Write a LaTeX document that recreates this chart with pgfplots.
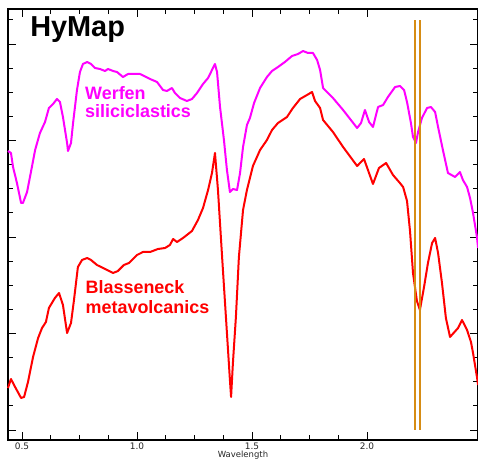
\documentclass[border=0pt]{standalone}
\usepackage{fontspec}
\setmainfont{Liberation Sans}
\newfontfamily\tickfont{DejaVu Sans}
\usepackage{pgfplots}
\pgfplotsset{compat=1.18}
\definecolor{orng}{RGB}{214,140,20}
\definecolor{mgnt}{RGB}{255,0,255}
\definecolor{rd}{RGB}{255,0,0}
\begin{document}
\begin{tikzpicture}
\begin{axis}[
  name=ax,
  scale only axis,
  width=470bp, height=431bp,
  xmin=0.4391, xmax=2.4826,
  ymin=0, ymax=431,
  axis line style={line width=1.3bp, black},
  xtick={0.5,1.0,1.5,2.0},
  xticklabels={0.5,1.0,1.5,2.0},
  minor x tick num=3,
  ytick={10,106.5,203,299.5,396},
  minor ytick={34.125,58.25,82.375,130.625,154.75,178.875,227.125,251.25,275.375,323.625,347.75,371.875,420.125},
  yticklabels={},
  tick align=inside,
  xtick pos=both, ytick pos=both,
  major tick length=8bp, minor tick length=5bp,
  every tick/.style={black, line width=0.9bp},
  x tick label style={font=\tickfont\fontsize{9}{10}\selectfont, text=black!85, inner sep=0pt, yshift=-2.5bp},
  xlabel={Wavelength},
  xlabel style={font=\tickfont\fontsize{8.5}{9}\selectfont, text=black!85, inner sep=0pt, yshift=-1.5bp},
  clip=false,
]
% Werfen siliciclastics (magenta)
\addplot[mgnt, line width=2bp, line join=round] coordinates {
(0.439,289)(0.452,287)(0.461,273)(0.478,257)(0.496,237)(0.504,237)(0.522,248)(0.543,273)(0.557,290)(0.578,307)(0.600,318)(0.617,332)(0.635,336)(0.652,341)(0.665,338)(0.678,323)(0.696,297)(0.700,289)(0.713,297)(0.722,317)(0.739,350)(0.752,368)(0.765,376)(0.783,378)(0.800,376)(0.817,372)(0.839,371)(0.861,369)(0.874,371)(0.896,369)(0.913,368)(0.939,363)(0.961,366)(1.013,366)(1.057,361)(1.087,358)(1.113,350)(1.130,349)(1.152,352)(1.165,347)(1.187,342)(1.217,339)(1.239,341)(1.261,347)(1.287,356)(1.309,362)(1.326,370)(1.339,376)(1.348,368)(1.361,333)(1.378,300)(1.391,270)(1.404,248)(1.417,251)(1.435,250)(1.448,267)(1.461,293)(1.478,315)(1.491,322)(1.509,337)(1.535,352)(1.565,363)(1.587,369)(1.613,373)(1.643,378)(1.674,384)(1.700,386)(1.722,389)(1.743,387)(1.765,387)(1.783,380)(1.796,370)(1.809,352)(1.852,342)(1.896,330)(1.957,312)(1.974,317)(1.991,330)(2.009,318)(2.026,313)(2.048,333)(2.070,335)(2.091,343)(2.122,353)(2.143,354)(2.161,350)(2.174,338)(2.191,317)(2.200,303)(2.213,297)(2.222,308)(2.239,322)(2.261,332)(2.278,333)(2.296,328)(2.309,313)(2.330,290)(2.352,267)(2.383,263)(2.404,268)(2.417,260)(2.435,253)(2.448,242)(2.461,227)(2.478,203)(2.483,192)
};
% Blasseneck metavolcanics (red)
\addplot[rd, line width=2bp, line join=round] coordinates {
(0.439,52)(0.452,61)(0.470,53)(0.496,42)(0.509,43)(0.526,58)(0.548,83)(0.570,102)(0.587,112)(0.604,118)(0.617,132)(0.643,142)(0.661,147)(0.678,135)(0.696,107)(0.713,117)(0.726,140)(0.743,173)(0.761,180)(0.783,182)(0.800,180)(0.826,175)(0.870,170)(0.896,167)(0.917,169)(0.943,175)(0.965,177)(1.000,185)(1.026,188)(1.057,188)(1.091,191)(1.122,192)(1.143,195)(1.157,201)(1.174,198)(1.200,202)(1.239,209)(1.265,220)(1.287,232)(1.309,250)(1.326,267)(1.339,287)(1.352,250)(1.370,183)(1.391,107)(1.404,60)(1.409,43)(1.417,77)(1.430,123)(1.443,183)(1.461,230)(1.478,250)(1.504,274)(1.535,290)(1.565,300)(1.587,310)(1.613,317)(1.652,323)(1.678,332)(1.709,341)(1.739,345)(1.761,348)(1.774,339)(1.796,332)(1.809,320)(1.852,308)(1.896,293)(1.957,274)(1.987,281)(2.026,256)(2.052,272)(2.083,277)(2.113,265)(2.143,257)(2.157,253)(2.174,239)(2.187,209)(2.200,167)(2.217,139)(2.230,130)(2.248,153)(2.265,177)(2.283,197)(2.296,202)(2.309,187)(2.326,157)(2.343,122)(2.361,103)(2.396,112)(2.413,120)(2.435,110)(2.452,98)(2.461,87)(2.478,63)(2.483,55)
};
% orange marker lines
\addplot[orng, line width=1.5bp] coordinates {(2.209,10)(2.209,420)};
\addplot[orng, line width=1.5bp] coordinates {(2.230,10)(2.230,420)};
% texts
\node[anchor=base west, inner sep=0pt, font=\bfseries\fontsize{29}{30}\selectfont] at (axis cs:0.535,403.3) {HyMap};
\node[anchor=base west, inner sep=0pt, text=mgnt, font=\bfseries\fontsize{18}{20}\selectfont] at (axis cs:0.774,340.7) {Werfen};
\node[anchor=base west, inner sep=0pt, text=mgnt, font=\bfseries\fontsize{18}{20}\selectfont] at (axis cs:0.774,322.3) {siliciclastics};
\node[anchor=base west, inner sep=0pt, text=rd, font=\bfseries\fontsize{18}{20}\selectfont] at (axis cs:0.776,146.7) {Blasseneck};
\node[anchor=base west, inner sep=0pt, text=rd, font=\bfseries\fontsize{18}{20}\selectfont] at (axis cs:0.776,126.7) {metavolcanics};
\end{axis}
\pgfresetboundingbox
\path ([shift={(-8bp,-26bp)}]ax.south west) rectangle ([shift={(0bp,9bp)}]ax.north east);
\end{tikzpicture}
\end{document}
